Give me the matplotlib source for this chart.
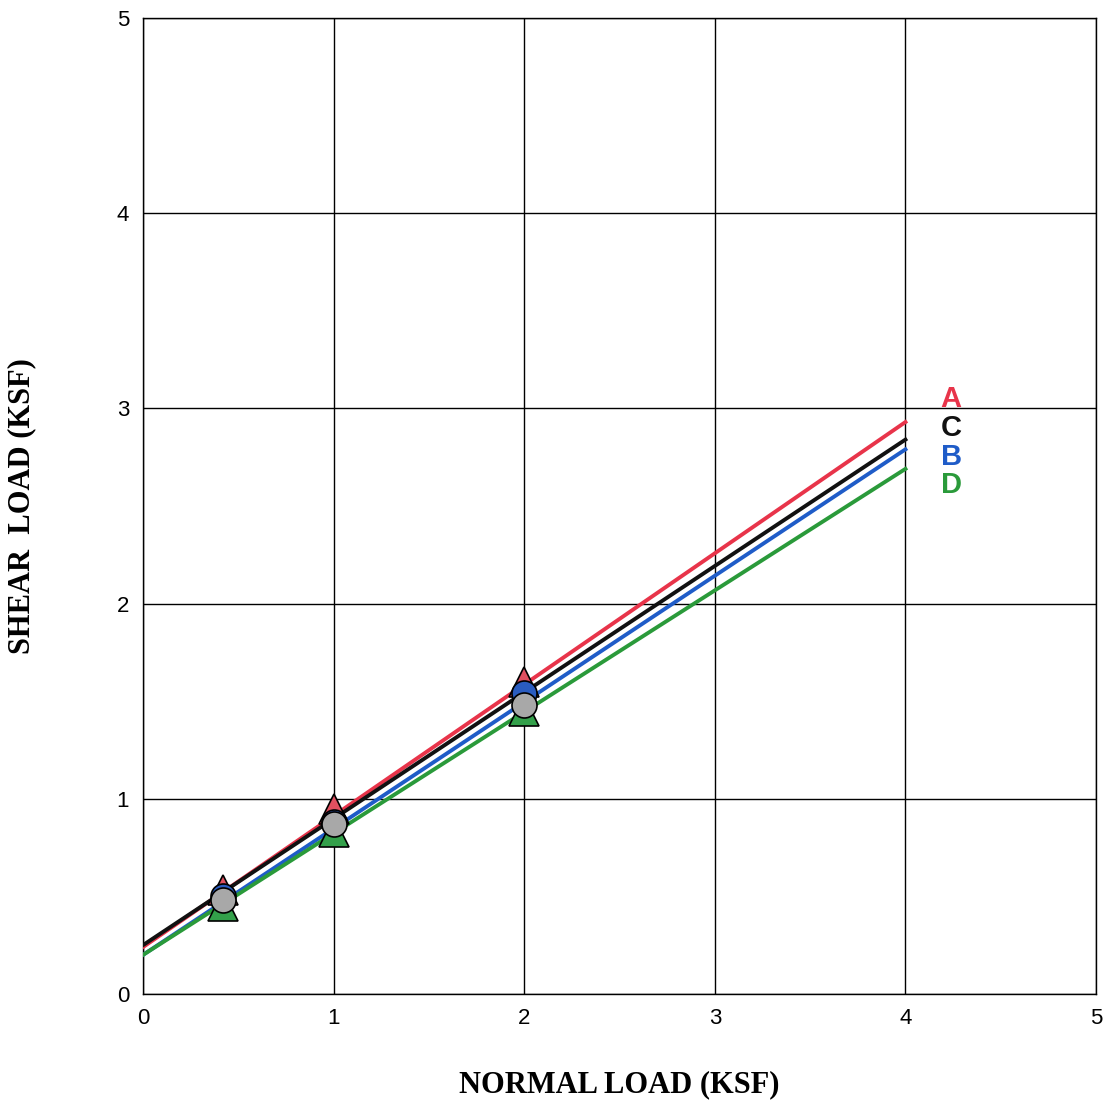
import numpy as np
import matplotlib
matplotlib.use('Agg')
import matplotlib.pyplot as plt

# Test points (normal load, shear load) per sample
normal = [0.42, 1.0, 2.0]
shear_a = [0.53, 0.95, 1.60]
shear_b = [0.50, 0.88, 1.54]
shear_c = [0.48, 0.87, 1.48]
shear_d = [0.45, 0.83, 1.45]

# Fitted envelopes: (intercept, value at x=4)
fit_x = [0, 4]
fit_a = [0.24, 2.93]
fit_b = [0.20, 2.79]
fit_c = [0.25, 2.84]
fit_d = [0.20, 2.69]

labels = ['A', 'C', 'B', 'D']
label_y = [3.05, 2.90, 2.75, 2.61]

red = '#e8344a'
blue = '#1f5cc8'
black = '#111111'
green = '#2a9a3a'

fig = plt.figure(figsize=(11.04, 11.05), dpi=100)
ax = fig.add_axes([0.1295, 0.1005, 0.8633, 0.8832])

# Lines first
ax.plot(fit_x, fit_a, color=red, lw=2.8, zorder=3)
ax.plot(fit_x, fit_c, color=black, lw=2.8, zorder=3)
ax.plot(fit_x, fit_b, color=blue, lw=2.8, zorder=3)
ax.plot(fit_x, fit_d, color=green, lw=2.8, zorder=3)

# Markers
ms = 21
ax.plot(normal, shear_d, '^', ms=ms, mfc='#33a04a', mec='black', mew=1.2, ls='none', zorder=4)
ax.plot(normal, shear_a, '^', ms=ms, mfc='#e05060', mec='black', mew=1.2, ls='none', zorder=4.2)
ax.plot(normal, shear_b, 'o', ms=ms - 3, mfc='#2a5cc0', mec='black', mew=1.2, ls='none', zorder=4.5)
ax.plot(normal, shear_c, 'o', ms=ms - 3, mfc='#a8a8a8', mec='black', mew=1.2, ls='none', zorder=5)

for lab, yy, c in zip(labels, label_y, [red, black, blue, green]):
    ax.text(4.24, yy, lab, color=c, fontsize=21, fontweight='bold',
            family='Liberation Sans', ha='center', va='center')

ax.set_xlim(0, 5)
ax.set_ylim(0, 5)
ax.set_xticks(range(6))
ax.set_yticks(range(6))
ax.grid(True, color='black', lw=1.0)
ax.set_axisbelow(True)
for s in ax.spines.values():
    s.set_color('black')
    s.set_linewidth(1.0)
ax.tick_params(length=0, pad=10, labelsize=16)
for t in ax.get_xticklabels() + ax.get_yticklabels():
    t.set_family('Liberation Sans')

ax.set_xlabel('NORMAL LOAD (KSF)', family='Liberation Serif', fontweight='bold',
              fontsize=22, labelpad=30)
ax.set_ylabel('SHEAR  LOAD (KSF)', family='Liberation Serif', fontweight='bold',
              fontsize=22, labelpad=58)

fig.savefig('out.png', dpi=100)
